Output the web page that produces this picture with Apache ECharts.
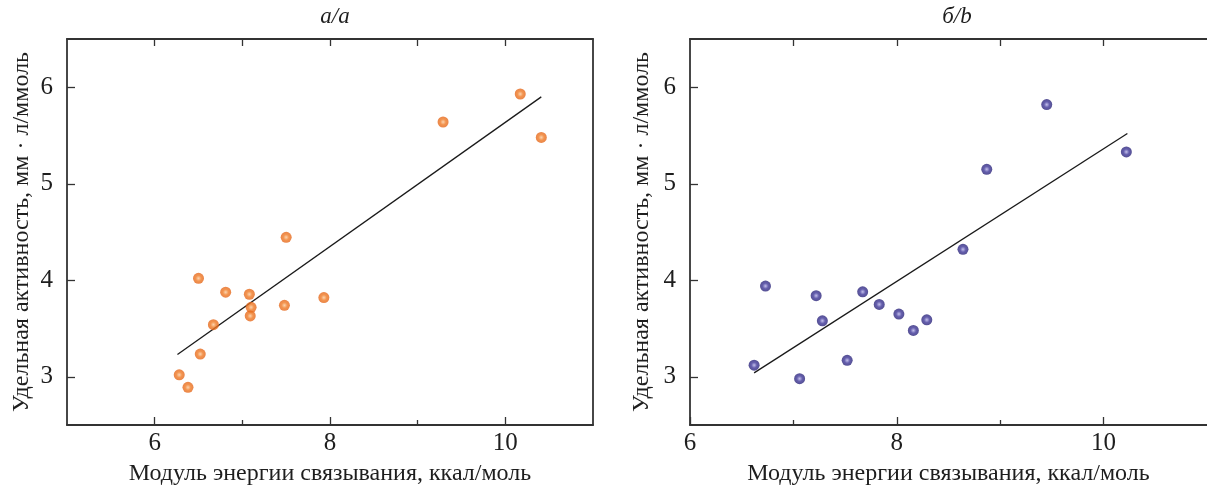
<!DOCTYPE html>
<html>
<head>
<meta charset="utf-8">
<script src="https://cdn.jsdelivr.net/npm/echarts@6/dist/echarts.min.js"></script>
<style>
html,body{margin:0;padding:0;background:#fff;}
#chart{width:1207px;height:491px;}
</style>
</head>
<body>
<div id="chart"></div>
<script>
// Panel a/a data
var xA = [6.28, 6.38, 6.52, 6.50, 6.67, 6.81, 7.08, 7.10, 7.09, 7.48, 7.50, 7.93, 9.29, 10.17, 10.41];
var yA = [3.02, 2.89, 3.235, 4.02, 3.54, 3.876, 3.855, 3.72, 3.63, 3.74, 4.445, 3.82, 5.64, 5.93, 5.48];
var fitAx = [6.26, 10.41];
var fitAy = [3.23, 5.90];

// Panel б/b data
var xB = [6.62, 6.73, 7.06, 7.22, 7.28, 7.52, 7.67, 7.83, 8.02, 8.16, 8.29, 8.64, 8.87, 9.45, 10.22];
var yB = [3.12, 3.94, 2.98, 3.84, 3.58, 3.17, 3.88, 3.75, 3.65, 3.48, 3.59, 4.32, 5.15, 5.82, 5.33];
var fitBx = [6.62, 10.23];
var fitBy = [3.04, 5.52];

var titles = ['a/a', 'б/b'];
var xTitle = 'Модуль энергии связывания, ккал/моль';
var yTitle = 'Удельная активность, мм · л/ммоль';
var xMajorA = [6, 8, 10], xMinorA = [7, 9], xTopA = [6, 7, 8, 9, 10];
var xMajorB = [6, 8, 10], xMinorB = [7, 9], xTopB = [7, 8, 9, 10];
var yMajor = [3, 4, 5, 6];

function pairs(xs, ys){ return xs.map(function(x,i){ return [x, ys[i]]; }); }

var FONT = '"Liberation Serif", "DejaVu Serif", serif';
var axisCol = '#333333';
var textCol = '#1e1e1e';

function grad(c0, c1, c2){
  return new echarts.graphic.RadialGradient(0.5, 0.5, 0.5, [
    {offset:0, color:c0},{offset:0.5, color:c1},{offset:1, color:c2}]);
}

var grids = [
  {left:67, top:39, width:526, height:392},
  {left:690, top:39, width:524.5, height:392}
];
var xr = [[5, 11],[6, 11]];
var majors = [xMajorA, xMajorB], minors = [xMinorA, xMinorB], tops = [xTopA, xTopB];

var xAxes = [], yAxes = [];
for (var g = 0; g < 2; g++) {
  // bottom major
  xAxes.push({gridIndex:g, type:'value', min:xr[g][0], max:xr[g][1], position:'bottom',
    name:xTitle, nameLocation:'middle', nameGap:37,
    nameTextStyle:{fontFamily:FONT, fontSize:24, color:textCol},
    axisLine:{show:true, lineStyle:{color:axisCol, width:1.8}},
    axisTick:{show:true, inside:true, length:8, customValues:majors[g], lineStyle:{color:axisCol, width:1.3}},
    axisLabel:{show:true, customValues:majors[g], margin:6, fontFamily:FONT, fontSize:25, color:textCol},
    splitLine:{show:false}});
  // bottom minor
  xAxes.push({gridIndex:g, type:'value', min:xr[g][0], max:xr[g][1], position:'bottom',
    axisLine:{show:false},
    axisTick:{show:true, inside:true, length:5, customValues:minors[g], lineStyle:{color:axisCol, width:1.3}},
    axisLabel:{show:false}, splitLine:{show:false}});
  // top
  xAxes.push({gridIndex:g, type:'value', min:xr[g][0], max:xr[g][1], position:'top',
    axisLine:{show:true, lineStyle:{color:axisCol, width:1.8}},
    axisTick:{show:true, inside:true, length:7, customValues:tops[g], lineStyle:{color:axisCol, width:1.3}},
    axisLabel:{show:false}, splitLine:{show:false}});
  // left y
  yAxes.push({gridIndex:g, type:'value', min:2.5, max:6.5, position:'left',
    name:yTitle, nameLocation:'middle', nameGap:g===0?33:36,
    nameTextStyle:{fontFamily:FONT, fontSize:24, color:textCol},
    axisLine:{show:true, lineStyle:{color:axisCol, width:1.8}},
    axisTick:{show:true, inside:true, length:8, customValues:yMajor, lineStyle:{color:axisCol, width:1.3}},
    axisLabel:{show:true, customValues:yMajor, margin:14, fontFamily:FONT, fontSize:25, color:textCol},
    splitLine:{show:false}});
  // right y (border only; the right panel's border lies outside the picture)
  yAxes.push({gridIndex:g, type:'value', min:2.5, max:6.5, position:'right',
    axisLine:{show:g===0, lineStyle:{color:axisCol, width:1.8}},
    axisTick:{show:false}, axisLabel:{show:false}, splitLine:{show:false}});
}

var option = {
  animation:false,
  backgroundColor:'#fff',
  title:[
    {text:titles[0], left:330, top:0, textAlign:'center',
     textStyle:{fontFamily:FONT, fontStyle:'italic', fontWeight:'normal', fontSize:23, color:textCol}},
    {text:titles[1], left:952, top:0, textAlign:'center',
     textStyle:{fontFamily:FONT, fontStyle:'italic', fontWeight:'normal', fontSize:23, color:textCol}}
  ],
  grid:grids,
  xAxis:xAxes,
  yAxis:yAxes,
  series:[
    {type:'line', xAxisIndex:0, yAxisIndex:0, data:pairs(fitAx, fitAy), symbol:'none',
     lineStyle:{color:'#1a1a1a', width:1.3}, z:2},
    {type:'scatter', xAxisIndex:0, yAxisIndex:0, data:pairs(xA, yA), symbolSize:11,
     itemStyle:{color:grad('#fbc99a', '#f07a24', '#e4661a')}, z:3},
    {type:'line', xAxisIndex:3, yAxisIndex:2, data:pairs(fitBx, fitBy), symbol:'none',
     lineStyle:{color:'#1a1a1a', width:1.3}, z:2},
    {type:'scatter', xAxisIndex:3, yAxisIndex:2, data:pairs(xB, yB), symbolSize:11,
     itemStyle:{color:grad('#b4b0e6', '#3f3799', '#2a2478')}, z:3}
  ]
};

var chart = echarts.init(document.getElementById('chart'), null, {renderer:'canvas'});
chart.setOption(option);
</script>
</body>
</html>
